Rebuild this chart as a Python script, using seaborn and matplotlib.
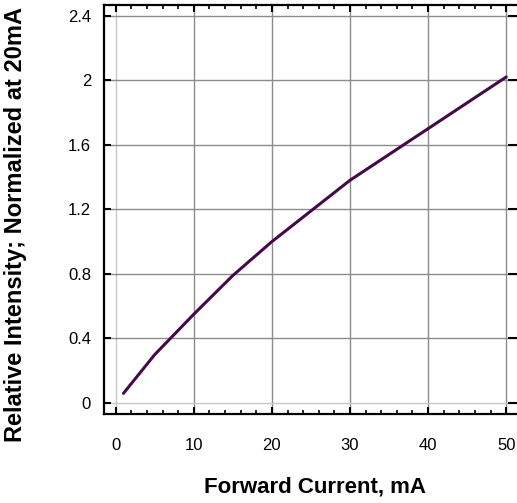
import matplotlib
matplotlib.use("Agg")
import matplotlib.pyplot as plt
import matplotlib.ticker as mticker
import seaborn as sns
import pandas as pd

# forward current (mA) vs relative intensity (normalized at 20 mA)
current_ma = [1, 5, 10, 15, 20, 25, 30, 35, 40, 45, 50]
rel_intensity = [0.06, 0.30, 0.55, 0.79, 1.00, 1.19, 1.38, 1.54, 1.70, 1.86, 2.02]
x_ticks = [0, 10, 20, 30, 40, 50]
y_ticks = [0, 0.4, 0.8, 1.2, 1.6, 2, 2.4]

sns.set_theme(style="white")
plt.rcParams["font.family"] = ["Liberation Sans", "DejaVu Sans"]
plt.rcParams["text.color"] = "black"
plt.rcParams["axes.labelcolor"] = "black"

df = pd.DataFrame({"current": current_ma, "intensity": rel_intensity})

fig = plt.figure(figsize=(5.17, 5.03), dpi=100)
# right spine sits just past the image edge, as in the reference
ax = fig.add_axes([0.2002, 0.177, 0.8066, 0.8137])

sns.lineplot(data=df, x="current", y="intensity", ax=ax,
             color="#450a4a", linewidth=2.2)

ax.set_xlim(-1.56, 51.83)
ax.set_ylim(-0.068, 2.468)
ax.set_xticks(x_ticks)
ax.xaxis.set_minor_locator(mticker.MultipleLocator(2))
ax.yaxis.set_major_locator(mticker.FixedLocator(y_ticks))
ax.yaxis.set_major_formatter(mticker.FuncFormatter(lambda v, p: f"{v:g}"))

ax.grid(True, which="major", color="#8c8c8c", linewidth=1.0)
ax.tick_params(which="major", direction="in", length=5, width=1.5, color="black",
               top=True, right=True, bottom=True, left=True, labelsize=12,
               labelcolor="black")
ax.tick_params(axis="y", which="major", pad=9)
ax.tick_params(axis="x", which="major", pad=17)
ax.tick_params(axis="x", which="minor", direction="in", length=3, width=1.2,
               color="black", top=True, bottom=True)
for t in ax.yaxis.get_major_ticks():
    t.tick2line.set_markersize(9.7)
for s in ax.spines.values():
    s.set_color("black")
    s.set_linewidth(1.6)

# zero gridlines are a lighter grey in the reference
ax.get_xgridlines()[0].set_color("#c8c8c8")
ax.get_ygridlines()[0].set_color("#c8c8c8")

ax.set_xlabel("Forward Current, mA", fontsize=16, fontweight="bold", labelpad=17)
ax.xaxis.label.set_x(0.507)
ax.set_ylabel("Relative Intensity; Normalized at 20mA", fontsize=17,
              fontweight="bold")
ax.yaxis.set_label_coords(-0.183, 0.462)

fig.savefig("out.png", dpi=100)
plt.close()
